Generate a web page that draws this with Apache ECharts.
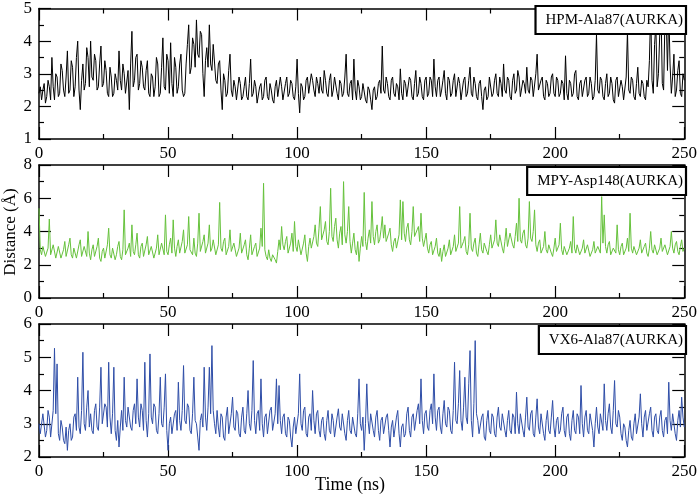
<!DOCTYPE html>
<html><head><meta charset="utf-8">
<script src="https://cdn.jsdelivr.net/npm/echarts@6/dist/echarts.min.js"></script>
<style>html,body{margin:0;padding:0;background:#fff}#c{width:700px;height:500px}</style>
</head><body><div id="c"></div>
<script>
// sampling: one value per 0.5 ns, 0..250 ns
const timeStepNs = 0.5;
const seriesNames = ['HPM-Ala87(AURKA)', 'MPY-Asp148(AURKA)', 'VX6-Ala87(AURKA)'];
const xTicks = [0, 50, 100, 150, 200, 250];

const hpm = [
2.4,2.6,2.2,2.5,2.7,2.1,2.3,2.8,2.6,2.2,
3.5,2.6,2.2,3.0,2.9,2.3,2.4,3.3,3.1,2.5,
2.3,2.9,3.7,2.4,2.5,3.4,3.2,2.3,2.6,3.5,
4.0,2.5,1.9,2.8,3.3,2.5,2.7,3.8,3.5,2.6,
4.0,2.9,2.8,3.6,3.4,2.5,2.6,3.3,3.85,2.6,
2.7,3.4,3.1,2.4,2.3,3.2,2.9,2.3,2.4,3.0,
2.8,2.5,3.7,2.8,2.5,3.3,3.0,2.4,2.4,3.1,
1.9,3.3,4.3,2.6,2.8,3.5,3.6,2.5,2.7,3.4,
3.2,2.6,2.5,3.1,3.4,2.4,2.3,3.0,2.9,2.3,
2.6,3.5,3.3,2.3,2.4,3.2,4.1,2.6,2.5,3.6,
3.4,2.4,3.95,2.7,2.3,3.5,3.2,2.4,2.6,3.3,
3.6,2.5,2.3,2.4,3.3,3.9,4.5,3.0,3.2,4.1,
3.9,3.2,4.65,3.6,3.5,4.3,4.2,3.0,2.3,3.4,
3.8,3.2,4.5,3.3,3.1,3.9,3.85,2.8,2.7,3.3,
3.4,2.5,1.9,3.0,2.8,2.3,2.4,3.1,3.6,2.5,
2.3,2.8,2.6,2.2,2.2,2.9,2.7,2.2,2.3,2.6,
2.9,2.3,2.2,2.7,3.45,2.3,2.4,2.8,2.6,2.1,
2.1,2.6,2.7,2.2,2.3,2.8,2.9,2.3,2.2,2.7,
2.5,2.2,2.1,2.6,2.8,2.3,2.3,2.9,2.6,2.2,
2.2,2.7,2.9,2.3,2.4,2.8,2.7,2.3,2.2,2.6,
3.45,2.4,1.8,2.7,2.6,2.2,2.3,2.8,2.9,2.4,
2.4,3.0,2.8,2.5,2.3,2.9,2.7,2.4,2.9,2.5,
2.4,3.1,2.8,2.4,2.3,2.8,3.0,2.3,2.5,2.9,
2.9,2.4,2.2,2.8,2.7,2.3,2.4,2.9,3.6,2.4,
2.3,2.7,2.8,2.2,3.45,2.5,2.2,2.8,2.6,2.2,
2.3,2.7,2.7,2.2,2.1,2.6,2.5,2.2,1.9,2.5,
2.6,2.2,2.3,2.7,2.8,2.4,3.85,2.5,2.4,2.9,
2.7,2.3,2.2,2.8,2.9,2.4,2.3,2.7,2.6,2.2,
3.15,2.4,2.2,2.8,2.7,2.3,2.3,2.9,2.8,2.3,
2.2,2.7,3.1,2.3,2.4,2.9,2.7,2.3,2.2,2.8,
2.9,2.3,2.4,2.9,2.8,2.3,3.45,2.6,2.3,2.8,
2.9,2.3,2.5,2.8,3.1,2.4,2.2,2.9,2.8,2.3,
2.4,2.8,3.0,2.3,2.3,2.9,2.7,2.2,2.2,2.8,
2.9,2.3,2.4,2.8,3.2,2.4,2.3,2.9,2.7,2.3,
2.2,2.7,2.8,2.3,1.9,2.5,2.6,2.2,2.3,2.9,
2.9,2.3,2.4,2.8,3.0,2.4,2.3,2.9,2.7,2.3,
3.3,2.5,2.4,2.9,2.8,2.3,2.2,2.8,3.0,2.4,
2.5,3.1,2.9,2.3,2.3,2.8,2.7,2.4,3.2,2.5,
2.4,2.9,2.8,2.3,2.3,3.0,3.6,2.5,2.5,2.8,
2.9,2.3,2.2,2.8,2.7,2.3,2.4,2.9,3.0,2.4,
2.3,2.9,2.8,2.3,2.4,2.8,2.7,2.2,3.55,2.4,
2.2,2.8,2.7,2.3,2.4,3.0,3.1,2.3,2.2,2.7,
2.8,2.3,2.3,2.8,2.9,2.3,2.4,2.9,2.7,2.2,
2.3,2.8,4.2,2.5,2.4,2.9,2.8,2.3,2.2,2.7,
3.0,2.3,2.4,2.9,2.7,2.2,2.1,2.8,2.9,2.3,
2.3,2.8,2.6,2.2,2.2,2.9,4.3,2.5,2.4,2.9,
2.8,2.3,2.2,2.7,3.2,2.4,2.3,2.8,2.7,2.3,
2.2,2.8,2.6,3.4,5.0,2.8,2.4,3.9,4.5,2.6,
3.0,4.2,5.0,2.7,2.5,4.6,4.8,3.1,5.0,3.3,
2.4,2.9,3.6,2.3,2.5,3.1,3.4,2.4,2.3,3.0,
2.8];

const mpy = [
5.4,2.9,2.6,3.1,3.2,2.5,2.4,3.0,4.75,2.6,
2.7,3.2,3.3,2.4,2.5,3.1,3.0,2.4,2.3,2.9,
3.4,2.5,2.6,3.2,3.6,2.6,2.4,3.0,3.1,2.4,
2.5,3.2,3.5,2.5,2.6,3.1,3.0,2.5,4.0,2.7,
2.3,2.9,3.2,2.5,2.5,3.1,3.6,2.4,2.2,2.8,
3.0,2.4,2.5,3.2,4.2,2.6,2.4,3.0,3.1,2.3,
2.6,3.1,3.4,2.5,2.3,2.9,5.3,2.6,2.5,3.0,
3.3,2.5,4.4,2.8,2.6,3.2,3.9,2.6,2.4,3.1,
3.3,2.5,2.5,3.2,3.7,2.6,2.6,3.1,3.2,2.4,
2.4,3.0,3.8,2.6,2.7,3.3,3.4,2.6,5.0,2.8,
2.6,3.2,3.6,2.7,4.7,3.0,2.5,3.1,3.5,2.7,
2.8,3.4,4.1,2.7,2.6,3.2,4.9,2.9,3.0,2.6,
3.6,2.7,2.5,3.3,5.1,2.8,2.9,3.4,3.8,2.7,
2.6,3.3,4.4,2.8,3.0,3.5,3.5,2.6,2.7,3.2,
5.75,3.0,2.8,3.4,3.6,2.6,2.5,3.1,4.1,2.8,
2.7,3.3,3.4,2.5,2.4,3.0,3.9,2.7,2.6,3.2,
3.5,2.6,2.3,3.0,3.8,2.6,2.5,3.1,3.3,2.5,
2.4,3.0,4.2,3.1,6.9,2.9,2.5,2.3,2.9,2.4,
2.2,2.6,2.7,2.3,2.1,2.8,3.5,2.9,4.3,3.2,
2.9,3.4,3.7,2.7,2.6,3.3,3.9,2.8,4.6,3.1,
2.8,3.5,3.4,2.6,2.5,3.3,3.8,2.7,2.2,3.1,
3.6,3.0,3.0,3.7,4.4,3.3,3.1,4.2,5.5,3.5,
3.6,4.1,4.6,3.4,3.2,4.0,6.6,3.7,3.4,4.3,
4.8,3.5,3.0,3.9,4.3,3.2,7.0,3.8,3.3,4.0,
5.5,3.4,2.7,3.3,3.9,2.9,2.6,3.4,2.2,3.0,
3.7,3.1,6.35,3.4,2.9,3.6,4.1,3.3,5.8,3.7,
3.2,4.0,4.4,3.3,3.5,4.1,4.9,3.6,4.4,3.4,
3.3,3.9,4.2,3.2,2.8,3.4,3.6,3.0,3.0,3.8,
5.9,3.5,5.8,3.9,3.4,4.2,4.5,3.5,3.2,4.0,
5.5,3.7,3.6,4.1,4.3,3.4,5.1,3.6,3.1,3.5,
3.9,3.0,2.7,3.2,3.4,2.6,2.6,3.1,3.6,2.7,
2.5,3.0,2.2,2.8,3.2,2.5,2.5,3.0,3.5,2.6,
2.6,3.1,3.8,2.8,2.7,3.3,5.5,3.0,2.9,3.4,
3.7,2.8,2.6,3.2,5.1,3.0,2.8,3.3,3.6,2.7,
2.5,3.2,3.9,2.9,2.7,3.3,3.4,2.8,2.6,3.2,
3.8,3.0,2.9,3.5,4.7,3.3,3.1,3.8,3.7,3.0,
2.7,3.4,4.2,3.1,3.2,3.9,3.9,3.2,3.0,3.7,
4.5,3.4,6.0,3.5,3.3,3.9,4.1,3.2,3.0,3.6,
5.8,3.6,3.4,4.0,5.3,3.2,2.8,3.3,3.5,2.7,
2.6,3.1,4.0,2.9,2.7,3.2,3.3,2.7,2.5,3.0,
3.6,2.8,2.7,3.2,4.5,2.9,2.6,3.1,3.2,2.6,
2.5,3.0,3.4,2.7,4.9,3.0,2.7,3.2,3.3,2.6,
2.5,3.0,3.5,2.7,2.6,3.2,3.1,2.5,2.4,2.9,
3.4,2.7,2.6,3.1,3.2,2.7,6.1,3.3,5.0,3.1,
2.7,3.2,3.4,2.6,2.5,3.0,3.1,2.7,4.4,2.9,
2.6,3.1,3.3,2.6,2.5,3.0,3.6,2.8,5.1,3.0,
2.7,3.1,3.2,2.6,2.5,3.0,3.5,2.7,2.6,3.1,
3.3,2.7,2.5,3.0,4.0,2.9,2.7,3.2,3.2,2.6,
2.5,3.0,3.6,2.8,2.7,3.2,3.1,2.6,2.6,3.1,
4.0,3.0,2.7,3.2,3.4,2.8,2.6,3.1,3.5,2.8,
3.0];

const vx6 = [
3.0,2.7,2.7,3.3,3.3,2.6,2.8,3.4,3.2,2.6,
2.6,3.4,5.27,3.3,4.8,2.7,2.5,3.1,2.9,2.5,
2.4,2.9,2.2,2.8,3.0,2.5,2.6,3.2,3.3,2.8,
4.4,2.9,2.7,3.4,5.15,3.0,2.8,3.5,4.0,2.9,
3.3,2.8,2.7,3.4,3.6,2.9,2.8,3.5,4.7,3.0,
3.0,3.6,3.5,2.9,4.85,3.2,2.7,3.3,4.7,2.8,
2.5,3.1,2.3,2.9,3.4,2.8,4.4,3.1,2.9,3.5,
3.5,2.9,2.8,3.4,3.6,3.0,4.35,3.2,2.9,3.6,
3.4,2.8,4.85,3.1,2.6,3.3,5.1,3.2,3.0,3.6,
3.5,2.8,2.7,3.3,4.4,3.0,2.9,3.5,4.5,2.8,
2.2,3.0,3.2,2.7,2.7,3.3,3.4,2.8,4.25,3.1,
2.8,3.4,4.75,3.1,3.0,3.6,3.5,2.8,2.7,3.3,
4.4,3.1,3.0,2.6,2.2,3.1,3.3,2.9,4.7,3.2,
2.8,3.5,4.7,3.3,5.35,3.4,3.0,2.7,3.4,2.9,
2.6,3.3,3.2,2.6,2.5,3.2,3.5,2.7,2.7,3.3,
3.8,2.9,2.8,3.4,3.3,2.7,2.6,3.2,3.5,2.8,
2.7,3.3,4.0,3.0,2.8,3.4,4.9,3.1,2.7,3.3,
3.4,2.8,4.35,3.0,2.6,3.2,3.3,2.7,2.7,3.4,
3.5,2.8,2.8,3.3,4.35,3.0,4.15,3.1,2.7,3.2,
3.3,2.7,2.6,3.2,3.1,2.6,2.3,2.9,3.2,2.7,
2.7,3.3,4.5,3.0,2.8,3.4,3.5,2.7,2.6,3.2,
3.3,2.8,4.0,3.1,2.7,3.3,3.4,2.8,2.6,3.1,
3.2,2.7,2.5,3.1,3.4,2.8,2.7,3.3,3.1,2.6,
2.6,3.2,3.45,2.9,2.8,3.3,3.3,2.7,2.5,3.1,
3.4,2.8,2.7,3.2,3.2,2.7,2.6,3.3,4.35,3.0,
2.8,3.2,2.2,3.0,4.2,3.1,2.7,3.3,3.3,2.8,
2.6,3.2,3.4,2.8,2.5,3.1,3.2,2.7,2.7,3.2,
3.3,2.8,2.3,2.9,3.1,2.6,2.6,3.2,3.4,2.7,
2.3,2.9,3.0,2.6,2.7,3.3,3.5,2.8,2.6,3.2,
3.3,2.8,2.8,3.4,3.6,3.0,4.35,3.1,2.7,3.3,
3.4,2.9,2.8,3.4,3.6,3.0,4.5,3.2,2.8,3.4,
3.5,2.9,2.7,3.3,3.7,3.0,2.9,3.5,3.4,2.8,
2.7,3.4,4.85,3.1,3.0,3.6,4.6,3.1,2.8,3.5,
4.4,3.2,3.0,4.2,5.2,3.1,2.6,3.6,5.5,3.3,
3.1,2.7,2.7,3.2,3.3,2.6,2.5,3.1,3.4,2.8,
2.7,3.3,3.2,2.7,2.6,3.2,3.5,2.9,2.8,3.3,
3.3,2.8,2.6,3.1,3.4,2.8,2.7,3.3,3.2,2.7,
3.95,3.0,2.7,3.3,3.3,2.8,2.6,3.2,3.8,2.9,
2.8,3.3,3.4,2.7,2.6,3.2,3.75,2.9,2.7,3.3,
3.3,2.7,2.5,3.1,3.4,2.8,2.7,3.2,3.7,2.9,
2.6,3.1,3.2,2.7,2.8,3.3,3.5,2.8,2.6,3.2,
3.3,2.7,2.5,3.1,3.4,2.8,2.7,3.3,3.2,2.7,
4.15,3.0,2.6,3.2,3.4,2.8,2.7,3.3,3.3,2.8,
2.3,3.0,3.5,2.9,2.7,3.3,3.3,2.8,4.2,3.1,
2.8,3.3,3.6,2.9,2.7,3.4,4.3,3.0,2.9,3.4,
3.2,2.7,2.5,3.0,2.9,2.5,2.3,2.8,3.1,2.6,
2.5,3.0,3.3,2.7,2.7,3.2,3.9,3.0,2.6,3.2,
3.4,2.8,2.8,3.3,3.5,2.8,2.6,3.2,3.3,2.8,
2.7,3.2,3.4,2.8,2.6,3.1,3.2,2.7,4.25,3.1,
2.8,3.3,3.3,2.7,2.5,3.1,3.4,2.9,3.8,3.2,
2.9];

const yRanges = [{min:1,max:5,interval:1},{min:0,max:8,interval:2},{min:2,max:6,interval:1}];
const colors = ['#000000', '#66c23c', '#2f4ea8'];
const panelData = [hpm, mpy, vx6];

const FONT = '"Liberation Serif", "Times New Roman", serif';
const gridTops = [6, 165, 324];
const legendTops = [6, 167, 326];
const gridH = 133;

const grids = [], xAxes = [], yAxes = [], series = [], legends = [];
const axisLine = {show:true, onZero:false, lineStyle:{color:'#000', width:1.5}};
for (let i = 0; i < 3; i++) {
  grids.push({left:39, right:14, top:gridTops[i], height:gridH, containLabel:false});
  const xBase = {type:'value', gridIndex:i, min:xTicks[0], max:xTicks[xTicks.length-1], interval:xTicks[1]-xTicks[0],
    axisLine:axisLine, splitLine:{show:false},
    axisTick:{show:true, inside:true, length:12, lineStyle:{color:'#000', width:1.2}},
    minorTick:{show:true, splitNumber:2, length:5, lineStyle:{color:'#000', width:1.2}},
    minorSplitLine:{show:false}};
  xAxes.push(Object.assign({}, xBase, {position:'bottom',
    axisLabel:{show:true, color:'#000', fontFamily:FONT, fontSize:17, margin:6}}));
  xAxes.push(Object.assign({}, xBase, {position:'top', axisLabel:{show:false}}));
  const yBase = {type:'value', gridIndex:i, min:yRanges[i].min, max:yRanges[i].max, interval:yRanges[i].interval,
    axisLine:axisLine, splitLine:{show:false},
    axisTick:{show:true, inside:true, length:12, lineStyle:{color:'#000', width:1.2}},
    minorTick:{show:true, splitNumber:2, length:5, lineStyle:{color:'#000', width:1.2}},
    minorSplitLine:{show:false}};
  yAxes.push(Object.assign({}, yBase, {position:'left',
    axisLabel:{show:true, color:'#000', fontFamily:FONT, fontSize:17, margin:7}}));
  yAxes.push(Object.assign({}, yBase, {position:'right', axisLabel:{show:false}}));
  series.push({name:seriesNames[i], type:'line', xAxisIndex:2*i, yAxisIndex:2*i,
    data: panelData[i].map((v, k) => [k*timeStepNs, v]),
    showSymbol:false, symbol:'none', lineStyle:{color:colors[i], width:1}, itemStyle:{color:colors[i]},
    clip:true, animation:false});
  legends.push({data:[{name:seriesNames[i], icon:'none'}], right:14, top:legendTops[i],
    backgroundColor:'#fff', borderColor:'#000', borderWidth:2.2, borderRadius:0,
    padding:[7, 3, 6, 5], itemWidth:0, itemHeight:14, selectedMode:false,
    textStyle:{fontFamily:FONT, fontSize:15, color:'#000'}, z:10});
}

const chart = echarts.init(document.getElementById('c'), null, {renderer:'canvas'});
chart.setOption({
  animation:false,
  backgroundColor:'#fff',
  grid:grids, xAxis:xAxes, yAxis:yAxes, series:series, legend:legends,
  graphic:[
    {type:'text', left:'center', top:476, style:{text:'Time (ns)', font:'18px ' + FONT, fill:'#000'}},
    {type:'text', style:{text:'Distance (Å)', font:'17px ' + FONT, fill:'#000', align:'center', verticalAlign:'middle'},
      x:11, y:232, rotation:Math.PI/2}
  ]
});
</script></body></html>
